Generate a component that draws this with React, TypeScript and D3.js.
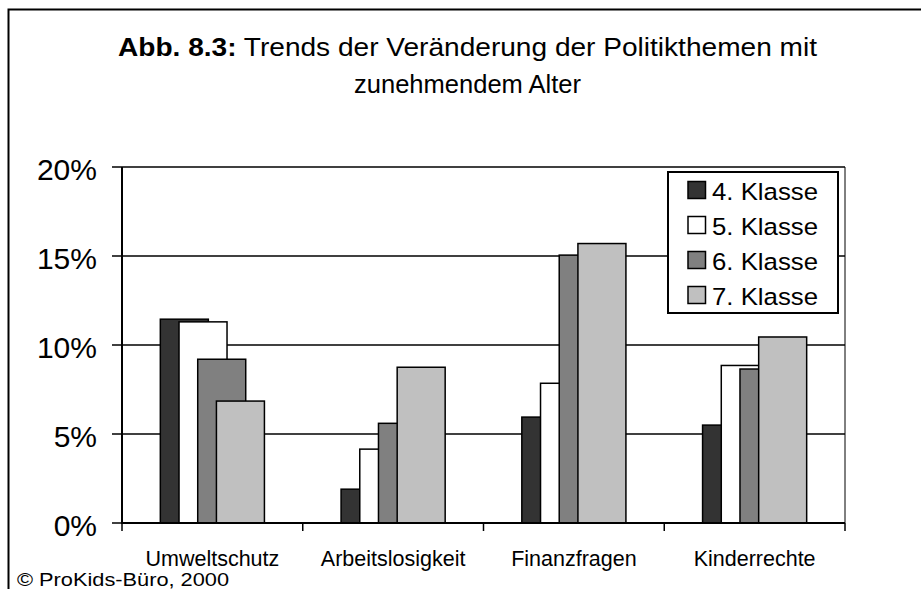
import React from "react";
import * as d3 from "d3";

const categories = ["Umweltschutz", "Arbeitslosigkeit", "Finanzfragen", "Kinderrechte"];
const seriesNames = ["4. Klasse", "5. Klasse", "6. Klasse", "7. Klasse"];
const klasse4 = [11.45, 1.9, 5.95, 5.5];
const klasse5 = [11.3, 4.15, 7.85, 8.85];
const klasse6 = [9.2, 5.6, 15.05, 8.65];
const klasse7 = [6.85, 8.75, 15.7, 10.45];
const seriesValues = [klasse4, klasse5, klasse6, klasse7];
const seriesColors = ["#333333", "#ffffff", "#808080", "#c0c0c0"];
const yTicks = [0, 5, 10, 15, 20];

const W = 921;
const H = 589;
const plot = { left: 122, right: 845, top: 167, bottom: 523 };
const font = "Arial, 'Liberation Sans', sans-serif";

export default function App() {
  const x = d3.scaleBand<string>().domain(categories).range([plot.left, plot.right]).padding(0);
  const y = d3.scaleLinear().domain([0, 20]).range([plot.bottom, plot.top]);
  const barW = 48;
  const step = 18.7;
  const groupW = step * (seriesNames.length - 1) + barW;

  return (
    <svg width={W} height={H} style={{ position: "absolute", left: 0, top: 0, background: "#fff" }}>
      <rect x={0} y={0} width={W} height={H} fill="#fff" />
      <rect x={8.5} y={9.5} width={W + 10} height={H + 10} fill="none" stroke="#000" strokeWidth={2} />
      <text x={118} y={56} fontFamily={font} fontSize={25} fill="#000" textLength={699} lengthAdjust="spacingAndGlyphs">
        <tspan fontWeight="bold">Abb. 8.3:</tspan>
        <tspan> Trends der Veränderung der Politikthemen mit</tspan>
      </text>
      <text x={354} y={93} fontFamily={font} fontSize={25} fill="#000" textLength={227} lengthAdjust="spacingAndGlyphs">
        zunehmendem Alter
      </text>

      {yTicks.map((t) => (
        <g key={t}>
          {t > 0 && (
            <line x1={plot.left} x2={plot.right} y1={y(t)} y2={y(t)} stroke="#000" strokeWidth={1.5} />
          )}
          <line x1={plot.left - 10} x2={plot.left} y1={y(t)} y2={y(t)} stroke="#000" strokeWidth={1.5} />
          <text x={97} y={y(t) + 12.5} textAnchor="end" fontFamily={font} fontSize={30} fill="#000">
            {t}%
          </text>
        </g>
      ))}
      <line x1={plot.right} x2={plot.right} y1={plot.top} y2={plot.bottom} stroke="#000" strokeWidth={1} />

      {seriesValues.map((vals, si) =>
        vals.map((v, ci) => {
          const cx = (x(categories[ci]) as number) + x.bandwidth() / 2;
          const bx = cx - groupW / 2 + si * step;
          return (
            <rect
              key={`${si}-${ci}`}
              x={bx}
              y={y(v)}
              width={barW}
              height={plot.bottom - y(v)}
              fill={seriesColors[si]}
              stroke="#000"
              strokeWidth={1.5}
            />
          );
        })
      )}

      <line x1={plot.left} x2={plot.left} y1={plot.top} y2={plot.bottom + 1} stroke="#000" strokeWidth={2} />
      <line x1={plot.left - 1} x2={plot.right} y1={plot.bottom} y2={plot.bottom} stroke="#000" strokeWidth={2} />
      {categories.map((c, i) => (
        <line
          key={`t${i}`}
          x1={x(c) as number}
          x2={x(c) as number}
          y1={plot.bottom}
          y2={plot.bottom + 8}
          stroke="#000"
          strokeWidth={1.5}
        />
      ))}
      <line x1={plot.right} x2={plot.right} y1={plot.bottom} y2={plot.bottom + 8} stroke="#000" strokeWidth={1.5} />
      {categories.map((c) => (
        <text
          key={c}
          x={(x(c) as number) + x.bandwidth() / 2}
          y={566}
          textAnchor="middle"
          fontFamily={font}
          fontSize={21.5}
          fill="#000"
        >
          {c}
        </text>
      ))}

      <rect x={668} y={172} width={170} height={141} fill="#fff" stroke="#000" strokeWidth={2} />
      {seriesNames.map((n, i) => (
        <g key={n}>
          <rect x={688} y={181.5 + i * 35} width={17.5} height={17} fill={seriesColors[i]} stroke="#000" strokeWidth={1.5} />
          <text x={712} y={200 + i * 35} fontFamily={font} fontSize={24.5} fill="#000" textLength={106} lengthAdjust="spacingAndGlyphs">
            {n}
          </text>
        </g>
      ))}

      <text x={17} y={586} fontFamily={font} fontSize={19} fill="#000" textLength={212} lengthAdjust="spacingAndGlyphs">
        © ProKids-Büro, 2000
      </text>
    </svg>
  );
}
